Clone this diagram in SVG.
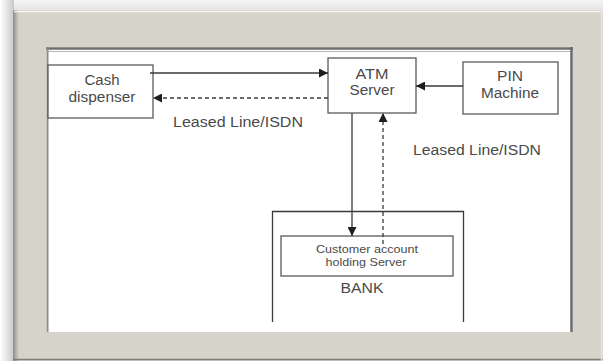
<svg xmlns="http://www.w3.org/2000/svg" width="603" height="361" viewBox="0 0 603 361">
  <defs>
    <style>
      .box { fill: #ffffff; stroke: #5a5a5a; stroke-width: 1.3; }
      .lbl { font-family: "Liberation Sans", Arial, sans-serif; fill: #4a4a4a; text-anchor: middle; }
      .big { font-size: 14px; }
      .small { font-size: 11px; }
      .wire { fill: none; stroke: #3a3a3a; stroke-width: 1.3; }
      .dash { stroke-dasharray: 4 3; }
    </style>
    <marker id="arrow" viewBox="0 0 10 10" refX="10" refY="5" markerWidth="9" markerHeight="9" markerUnits="userSpaceOnUse" orient="auto">
      <path d="M0,0 L10,5 L0,10 Z" fill="#1e1e1e"/>
    </marker>
    <linearGradient id="shadeLeft" x1="0" y1="0" x2="1" y2="0">
      <stop offset="0" stop-color="#ffffff"/>
      <stop offset="1" stop-color="#c9c9c9"/>
    </linearGradient>
    <linearGradient id="shadeTop" x1="0" y1="0" x2="0" y2="1">
      <stop offset="0" stop-color="#f6f6f6"/>
      <stop offset="1" stop-color="#e2e2e2"/>
    </linearGradient>
    <linearGradient id="frameEdge" x1="0" y1="0" x2="1" y2="0">
      <stop offset="0" stop-color="#8f8e89"/>
      <stop offset="1" stop-color="#d6d3cb"/>
    </linearGradient>
  </defs>

  <!-- page background and drop shadow -->
  <rect x="0" y="0" width="603" height="361" fill="#ffffff"/>
  <rect x="0" y="0" width="603" height="11" fill="url(#shadeTop)"/>
  <rect x="0" y="0" width="14" height="361" fill="url(#shadeLeft)"/>

  <!-- beige frame -->
  <g id="frame">
    <rect x="13" y="10" width="590" height="351" fill="#d6d3cb"/>
    <rect x="13" y="10" width="6" height="351" fill="url(#frameEdge)"/>
    <line x1="14" y1="11.5" x2="603" y2="11.5" stroke="#f7f5ee" stroke-width="1.5"/>
    <line x1="13" y1="359.5" x2="603" y2="359.5" stroke="#7e7d78" stroke-width="1.5"/>
    <line x1="601.5" y1="10" x2="601.5" y2="361" stroke="#e6e4dd" stroke-width="1.5"/>
  </g>

  <!-- white drawing panel -->
  <g id="panel">
    <rect x="46" y="47" width="527" height="285" fill="#ffffff"/>
    <line x1="46" y1="48.5" x2="573" y2="48.5" stroke="#6e6e6e" stroke-width="2.5"/>
    <line x1="48" y1="51.5" x2="571" y2="51.5" stroke="#b5b5b5" stroke-width="1"/>
    <line x1="47.5" y1="47" x2="47.5" y2="332" stroke="#8a8a8a" stroke-width="2"/>
    <line x1="571.5" y1="47" x2="571.5" y2="332" stroke="#6a6a6a" stroke-width="2.5"/>
  </g>

  <!-- BANK enclosure, open at the bottom -->
  <g id="bank">
    <polyline class="wire" points="272.5,322 272.5,211.5 463.5,211.5 463.5,322" stroke="#555"/>
    <text class="lbl big" x="362" y="293" textLength="43" lengthAdjust="spacingAndGlyphs">BANK</text>
  </g>

  <g id="customer-server">
    <rect class="box" x="281" y="236" width="172" height="40"/>
    <text class="lbl small" x="367" y="253" textLength="102" lengthAdjust="spacingAndGlyphs">Customer account</text>
    <text class="lbl small" x="366" y="266" textLength="81" lengthAdjust="spacingAndGlyphs">holding Server</text>
  </g>

  <g id="cash-dispenser">
    <rect class="box" x="48" y="65" width="105" height="53"/>
    <text class="lbl big" x="102" y="85" textLength="35" lengthAdjust="spacingAndGlyphs">Cash</text>
    <text class="lbl big" x="102" y="102" textLength="67" lengthAdjust="spacingAndGlyphs">dispenser</text>
  </g>

  <g id="atm-server">
    <rect class="box" x="328" y="58" width="88" height="55"/>
    <text class="lbl big" x="372" y="79" textLength="33" lengthAdjust="spacingAndGlyphs">ATM</text>
    <text class="lbl big" x="372" y="95" textLength="45" lengthAdjust="spacingAndGlyphs">Server</text>
  </g>

  <g id="pin-machine">
    <rect class="box" x="463" y="62" width="95" height="52"/>
    <text class="lbl big" x="510" y="81" textLength="26" lengthAdjust="spacingAndGlyphs">PIN</text>
    <text class="lbl big" x="510" y="98" textLength="58" lengthAdjust="spacingAndGlyphs">Machine</text>
  </g>

  <!-- link labels -->
  <g id="labels">
    <text class="lbl big" x="238" y="127" textLength="130" lengthAdjust="spacingAndGlyphs">Leased Line/ISDN</text>
    <text class="lbl big" x="477" y="155" textLength="128" lengthAdjust="spacingAndGlyphs">Leased Line/ISDN</text>
  </g>

  <!-- connectors -->
  <g id="connectors">
    <line class="wire" x1="150" y1="73" x2="328" y2="73" marker-end="url(#arrow)"/>
    <line class="wire dash" x1="328" y1="98" x2="153" y2="98" marker-end="url(#arrow)"/>
    <line class="wire" x1="463" y1="86" x2="416" y2="86" marker-end="url(#arrow)"/>
    <line class="wire" x1="352" y1="113" x2="352" y2="236" marker-end="url(#arrow)"/>
    <line class="wire dash" x1="383" y1="244" x2="383" y2="113" marker-end="url(#arrow)"/>
  </g>
</svg>
